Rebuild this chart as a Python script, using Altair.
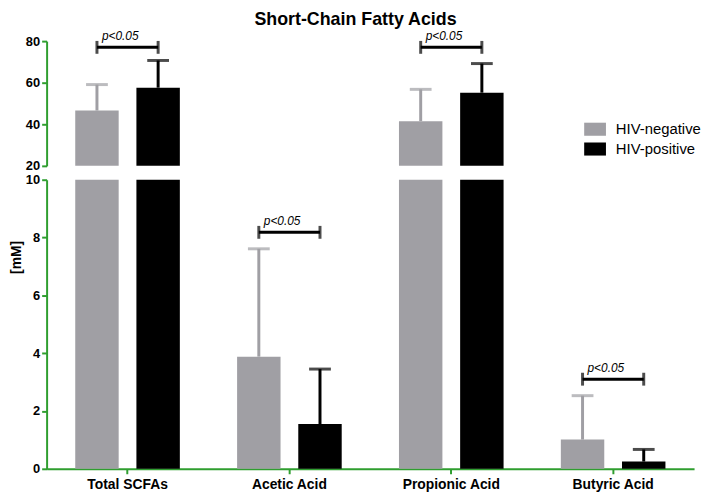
import altair as alt
import pandas as pd

categories = ["Total SCFAs", "Acetic Acid", "Propionic Acid", "Butyric Acid"]
groups = ["HIV-negative", "HIV-positive"]
mean_neg = [46.6, 3.88, 41.5, 1.01]
upper_neg = [59.1, 7.61, 56.8, 2.53]
mean_pos = [57.6, 1.55, 55.2, 0.25]
upper_pos = [70.7, 3.45, 69.2, 0.67]
sig_cats = ["Total SCFAs", "Acetic Acid", "Propionic Acid", "Butyric Acid"]
sig_levels = [77.0, 8.18, 77.0, 3.1]
sig_label = "p<0.05"
top_ticks = [20, 40, 60, 80]
bottom_ticks = [0, 2, 4, 6, 8, 10]

GREEN = "#2f9e2f"
GREY = "#a09fa4"
FONT = "Liberation Sans"

rows = []
for i, c in enumerate(categories):
    rows.append(dict(cat=c, group=groups[0], mean=mean_neg[i], upper=upper_neg[i]))
    rows.append(dict(cat=c, group=groups[1], mean=mean_pos[i], upper=upper_pos[i]))
df = pd.DataFrame(rows)
df["mean_low"] = df["mean"].clip(upper=10)

sig_rows = []
for c, lv in zip(sig_cats, sig_levels):
    for g in groups:
        sig_rows.append(dict(cat=c, group=g, level=lv, label=sig_label if g == groups[0] else ""))
sig = pd.DataFrame(sig_rows)

top_df = df[df["mean"] > 20]
bot_err = df[df["upper"] <= 10]
sig_top = sig[sig["level"] > 20]
sig_bot = sig[sig["level"] <= 10]

xscale = alt.Scale(domain=categories, paddingInner=0, paddingOuter=0)
xoff = alt.XOffset("group:N", sort=groups,
                   scale=alt.Scale(domain=groups, paddingInner=0.29, paddingOuter=0.468))
color = alt.Color("group:N", scale=alt.Scale(domain=groups, range=[GREY, "#000000"]),
                  legend=alt.Legend(title=None, orient="none", legendX=543, legendY=78,
                                    symbolType="M-1,-0.6H1V0.6H-1Z", symbolSize=484,
                                    symbolStrokeWidth=0, symbolOpacity=1,
                                    labelFontSize=15, labelFont=FONT, labelColor="#000000",
                                    rowPadding=1, labelOffset=10, padding=0))

W = 654
top_y = alt.Scale(domain=[20, 80], nice=False, zero=False)
bot_y = alt.Scale(domain=[0, 10], nice=False)

axis_common = dict(domainColor=GREEN, tickColor=GREEN, domainWidth=2, tickWidth=2,
                   tickSize=5, labelFontWeight="bold", labelFont=FONT,
                   labelColor="#000000", grid=False)

top_yaxis = alt.Axis(values=top_ticks, title=None, labelPadding=2, labelFontSize=13,
                     **axis_common)
bot_yaxis = alt.Axis(values=bottom_ticks, title="[mM]", titleFontWeight="bold",
                     titleFontSize=14, titleFont=FONT, titleColor="#000000",
                     titleX=-23, titleY=78, labelPadding=2, labelFontSize=13, **axis_common)
bot_xaxis = alt.Axis(title=None, labelAngle=0, labelPadding=4, labelFontSize=14,
                     **axis_common)

xt = alt.X("cat:N", sort=categories, scale=xscale, axis=None)
xb = alt.X("cat:N", sort=categories, scale=xscale, axis=bot_xaxis)


def panel(bars_df, bar_field, err_df, sig_df, x, yscale, yaxis, ybase, h):
    base_y = alt.Y(f"{bar_field}:Q", scale=yscale, axis=yaxis)
    bars = alt.Chart(bars_df).mark_bar().encode(
        x=x, xOffset=xoff, y=base_y, y2=alt.datum(ybase), color=color)
    rule = alt.Chart(err_df).mark_rule(strokeWidth=3).encode(
        x=x, xOffset=xoff, y=alt.Y("mean:Q", scale=yscale), y2="upper:Q", color=color)
    cap = alt.Chart(err_df).mark_tick(orient="horizontal", size=22, thickness=3).encode(
        x=x, xOffset=xoff, y=alt.Y("upper:Q", scale=yscale), color=color)
    bline = alt.Chart(sig_df).mark_line(strokeWidth=3, color="#000000").encode(
        x=x, xOffset=xoff, y=alt.Y("level:Q", scale=yscale), detail="cat:N")
    bcap = alt.Chart(sig_df).mark_tick(orient="vertical", size=13, thickness=3,
                                       color="#000000").encode(
        x=x, xOffset=xoff, y=alt.Y("level:Q", scale=yscale))
    btxt = alt.Chart(sig_df).mark_text(align="left", baseline="bottom", dx=5, dy=-4,
                                       fontStyle="italic", fontSize=12, font=FONT,
                                       color="#000000").encode(
        x=x, xOffset=xoff, y=alt.Y("level:Q", scale=yscale), text="label:N")
    return alt.layer(bars, rule, cap, bline, bcap, btxt).properties(width=W, height=h)


top = panel(top_df, "mean", top_df, sig_top, xt, top_y, top_yaxis, 20, 126)
bottom = panel(df, "mean_low", bot_err, sig_bot, xb, bot_y, bot_yaxis, 0, 292)

chart = alt.vconcat(top, bottom, spacing=14, bounds="flush").properties(
    title=alt.Title("Short-Chain Fatty Acids", fontSize=18, font=FONT, fontWeight="bold",
                    anchor="middle", color="#000000", offset=2),
    padding={"left": 2, "top": 0, "right": 0, "bottom": 0},
).configure_view(strokeWidth=0)

chart.save("out.html", embed_options={"renderer": "svg", "actions": False})
